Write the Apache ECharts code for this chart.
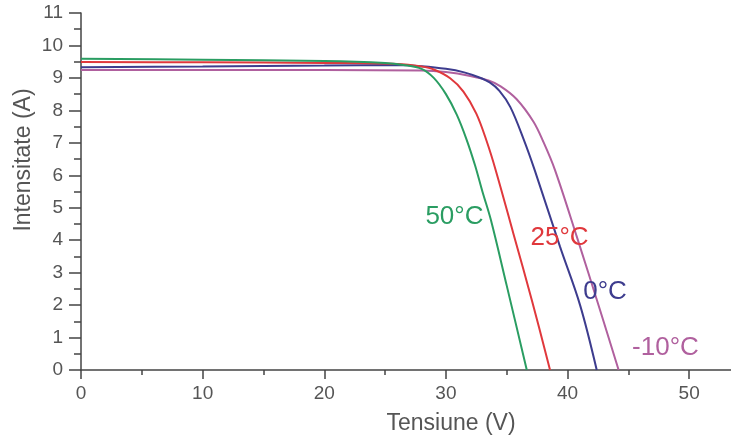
<!DOCTYPE html>
<html>
<head>
<meta charset="utf-8">
<script src="https://cdn.jsdelivr.net/npm/echarts@6/dist/echarts.min.js"></script>
<style>html,body{margin:0;padding:0;background:#fff}#c{width:731px;height:439px}</style>
</head>
<body>
<div id="c"></div>
<script>
// Current (A) vs Voltage (V) for each temperature
const curve50 = [[0,9.59],[10,9.56],[20,9.52],[25,9.46],[26.5,9.4],[28,9.28],[29,9.0],[30,8.5],[30.9,7.86],[31.7,7.1],[32.4,6.3],[33.0,5.5],[33.7,4.62],[35.0,2.6],[36.65,0]];
const curve25 = [[0,9.49],[10,9.48],[20,9.46],[26,9.43],[28,9.35],[29,9.26],[30.35,8.99],[31.44,8.58],[32.5,7.9],[33.36,7.04],[34.1,6.15],[35.55,4.2],[37.06,2.16],[38.56,0]];
const curve0 = [[0,9.33],[10,9.35],[20,9.38],[26,9.4],[28,9.36],[30,9.28],[31.5,9.17],[32.7,9.02],[33.6,8.86],[34.4,8.6],[35.3,8.1],[36.4,7.1],[37.3,6.16],[39.38,3.8],[41.03,2.0],[42.4,0]];
const curveM10 = [[0,9.24],[10,9.24],[20,9.24],[28,9.23],[30,9.18],[32,9.06],[33.5,8.92],[34.5,8.74],[35.8,8.35],[37.2,7.65],[38,7.04],[38.97,6.16],[40.76,4.11],[42.67,1.85],[44.2,0]];
const seriesNames = ['50°C','25°C','0°C','-10°C'];
const labelPos = [[30.7,4.73],[39.34,4.06],[43.08,2.41],[48.05,0.67]];
const colors = ['#2a9d62','#e0383c','#3d3c8e','#b0609e'];
const xTitle = 'Tensiune (V)';
const yTitle = 'Intensitate (A)';

const chart = echarts.init(document.getElementById('c'), null, {renderer:'canvas'});
const font = 'Liberation Sans, Arial, sans-serif';
const datas = [curve50, curve25, curve0, curveM10];
const series = datas.map((d,i)=>({
  type:'line', name:seriesNames[i], data:d, showSymbol:false, smooth:0.35,
  lineStyle:{color:colors[i], width:2}, itemStyle:{color:colors[i]}, z: 5-i,
  markPoint:{silent:true, symbol:'circle', symbolSize:1, itemStyle:{color:'rgba(0,0,0,0)'},
    label:{show:true, position:'inside', formatter:seriesNames[i], color:colors[i], fontSize:26, fontFamily:font},
    data:[{coord:labelPos[i]}]}
}));
chart.setOption({
  animation:false,
  grid:{left:81, top:13, width:669, height:357, outerBoundsMode:'none', containLabel:false},
  xAxis:{type:'value', min:0, max:55, interval:10,
    axisLine:{lineStyle:{color:'#444', width:1.5}},
    axisTick:{length:9, lineStyle:{color:'#444', width:1.5}},
    minorTick:{show:true, splitNumber:2, length:5, lineStyle:{color:'#444', width:1.5}},
    splitLine:{show:false},
    axisLabel:{margin:14, fontSize:19, color:'#555', fontFamily:font, formatter:v=> (v%10===0 && v<=50)? String(v):''}},
  yAxis:{type:'value', min:0, max:11, interval:1,
    axisLine:{show:true, lineStyle:{color:'#444', width:1.5}},
    axisTick:{show:true, length:12, lineStyle:{color:'#444', width:1.5}},
    minorTick:{show:true, splitNumber:2, length:7, lineStyle:{color:'#444', width:1.5}},
    splitLine:{show:false},
    axisLabel:{margin:18, fontSize:19, color:'#555', fontFamily:font}},
  graphic:[
    {type:'text', x:451, y:424, style:{text:xTitle, fontSize:23, fontFamily:font, fill:'#555', textAlign:'center', textVerticalAlign:'middle'}},
    {type:'text', x:24, y:160, rotation:Math.PI/2, style:{text:yTitle, fontSize:23, fontFamily:font, fill:'#555', textAlign:'center', textVerticalAlign:'middle'}}
  ],
  series: series
});
</script>
</body>
</html>
